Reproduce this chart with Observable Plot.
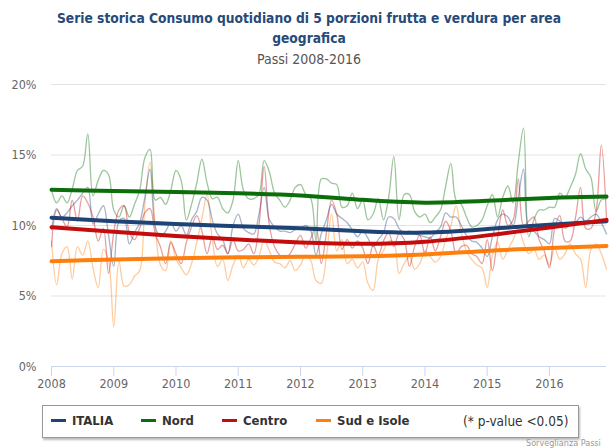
<!DOCTYPE html>
<html><head><meta charset="utf-8">
<script src="https://cdn.jsdelivr.net/npm/d3@7"></script>
<script src="https://cdn.jsdelivr.net/npm/@observablehq/plot@0.6"></script>
<style>
body{margin:0;background:#fff;font-family:"DejaVu Sans Condensed","Liberation Sans Narrow",Lato,sans-serif;}
#wrap{position:relative;width:609px;height:448px;overflow:hidden;background:#fff}
#chart{position:absolute;left:0;top:0}
#title{position:absolute;left:0;top:8px;width:618px;text-align:center;font-weight:bold;font-size:13.7px;line-height:20px;color:#274a78}
#subtitle{position:absolute;left:0;top:51px;width:618px;text-align:center;font-size:14px;color:#555}
#legend{position:absolute;left:42px;top:405px;width:535px;height:31px;border:1px solid #999;box-shadow:1px 2px 2px #bbb;background:#fff}
.li{position:absolute;top:7px;font-size:13px;font-weight:bold;color:#333;white-space:nowrap}
.sw{display:inline-block;width:15px;height:3px;margin-right:6px;vertical-align:middle;position:relative;top:-1px}
#pv{position:absolute;top:7px;left:420px;font-size:13.5px;color:#333;white-space:nowrap}
#credit{position:absolute;left:526px;top:438px;font-size:9px;line-height:10px;color:#999;white-space:nowrap}
</style></head>
<body><div id="wrap">
<div id="chart"></div>
<div id="title">Serie storica Consumo quotidiano di 5 porzioni frutta e verdura per area<br>geografica</div>
<div id="subtitle">Passi 2008-2016</div>
<div id="legend"></div>
<div id="credit">Sorveglianza Passi</div>
</div>
<script>
// ---- data ----
const seriesNames = ["ITALIA", "Nord", "Centro", "Sud e Isole"];
const seriesColors = ["#1d4377", "#0b6e0b", "#c40c0c", "#ff7f0e"];
const startYear = 2008; // monthly values Jan 2008 - Dec 2016
const yearTicks = [2008, 2009, 2010, 2011, 2012, 2013, 2014, 2015, 2016];
const yTicks = [0, 5, 10, 15, 20];

const italiaMonthly = [9.7,11.2,10.6,10.9,11.4,11.8,12.3,12.7,10.1,10.8,11.4,9.3,
  7.1,10.3,10.5,8.7,9.5,10.2,12.0,14.0,9.9,9.2,9.6,10.2,
  9.6,10.0,9.3,10.4,11.0,12.0,11.8,10.4,9.4,9.0,8.0,10.0,
  10.8,9.8,9.5,9.4,10.8,12.7,10.4,9.9,9.6,9.6,9.5,9.7,
  9.8,10.0,9.6,7.9,9.4,10.4,11.5,10.8,10.5,10.2,9.7,9.2,
  9.6,9.1,8.5,9.0,9.5,10.6,10.5,9.8,9.5,9.6,9.4,9.3,
  9.2,9.1,9.5,9.9,10.9,10.6,10.6,10.0,9.3,8.9,8.8,8.4,
  7.8,9.2,10.4,10.8,10.6,10.0,12.0,14.0,9.8,9.6,9.2,9.0,
  8.7,10.5,10.3,9.8,10.1,10.2,10.6,10.3,10.6,10.8,10.2,9.4];
const nordMonthly = [12.5,11.6,12.1,11.6,12.6,13.9,14.2,16.5,12.1,13.2,13.9,13.6,
  11.1,10.6,11.4,10.6,11.5,12.5,14.8,15.4,11.8,12.0,11.5,12.5,
  13.9,13.2,10.4,11.5,13.0,14.7,13.0,11.9,12.0,11.2,10.9,11.8,
  14.6,12.5,11.9,11.9,12.2,14.6,13.8,12.3,11.8,11.3,11.8,12.7,
  12.9,12.2,11.9,8.9,13.3,13.3,13.0,12.9,11.3,11.4,12.3,11.2,
  11.8,10.4,10.8,11.9,10.4,12.0,14.9,10.4,12.2,12.2,11.0,10.6,
  10.8,10.2,10.6,11.1,12.8,14.4,11.8,11.5,10.6,9.9,10.0,10.4,
  11.4,12.2,10.6,12.0,12.8,11.6,14.5,16.9,9.2,10.4,11.1,11.1,
  11.3,11.3,12.3,12.0,12.7,13.6,15.1,14.0,13.4,11.0,11.8,11.9];
const centroMonthly = [8.5,11.1,10.5,9.9,11.8,10.3,12.1,11.6,10.6,8.9,9.8,6.6,
  9.5,11.1,11.4,9.5,9.0,9.8,10.9,11.2,9.4,8.5,7.3,8.8,
  8.0,7.3,8.8,9.9,10.7,9.6,8.0,9.2,8.3,8.6,8.0,9.0,
  8.2,8.3,8.7,8.0,10.0,14.2,10.0,8.5,7.9,7.7,8.0,8.7,
  9.3,8.4,9.1,9.9,7.3,9.5,11.8,10.8,8.3,9.0,8.4,8.9,
  8.4,7.3,8.6,7.9,8.9,9.5,8.5,9.4,9.0,7.1,8.5,9.3,
  8.0,9.2,8.2,9.2,10.3,9.6,8.0,8.5,8.6,8.0,7.8,7.3,
  9.0,6.8,9.1,11.1,10.0,10.4,13.3,10.0,10.3,10.6,9.0,8.2,
  7.0,9.8,10.7,8.9,8.9,10.5,12.7,9.8,9.8,11.0,15.7,10.5];
const sudMonthly = [8.9,5.8,8.0,8.5,6.2,8.5,7.9,8.9,7.0,5.6,8.3,7.5,
  2.8,7.5,5.7,5.8,6.4,6.8,11.5,14.5,10.0,7.2,6.8,8.9,
  7.6,7.0,6.5,7.3,8.8,10.5,12.2,9.0,7.1,7.6,6.1,7.2,
  7.9,7.0,7.6,7.2,7.8,9.0,8.2,7.4,7.3,7.0,7.5,6.8,
  7.2,7.9,7.5,6.1,5.9,7.8,10.8,8.2,9.0,7.3,7.6,7.0,
  7.4,5.9,5.4,7.6,8.2,8.9,8.8,6.6,7.3,7.8,6.9,7.3,
  8.2,7.8,7.4,7.8,9.0,10.0,11.4,9.5,8.2,7.6,7.2,7.0,
  5.6,7.9,8.8,7.6,8.3,9.0,9.8,8.8,8.0,8.3,7.6,7.9,
  7.2,8.4,7.6,8.0,8.7,8.0,7.6,5.6,8.3,8.7,8.0,6.9];

// trend lines, value at each year start and at Dec 2016
const trendYears = [2008, 2009, 2010, 2011, 2012, 2013, 2014, 2015, 2016, 2016.917];
const italiaTrend = [10.55, 10.3, 10.1, 9.95, 9.8, 9.6, 9.5, 9.75, 10.05, 10.3];
const nordTrend   = [12.53, 12.45, 12.37, 12.28, 12.13, 11.82, 11.62, 11.75, 11.95, 12.05];
const centroTrend = [9.88, 9.55, 9.25, 9.0, 8.8, 8.7, 8.85, 9.3, 9.85, 10.4];
const sudTrend    = [7.47, 7.58, 7.68, 7.74, 7.78, 7.82, 7.95, 8.2, 8.4, 8.55];

// ---- build tables ----
const monthlyArrays = [italiaMonthly, nordMonthly, centroMonthly, sudMonthly];
const trendArrays = [italiaTrend, nordTrend, centroTrend, sudTrend];
const monthly = [], trend = [];
seriesNames.forEach((s, i) => {
  monthlyArrays[i].forEach((v, m) => monthly.push({serie: s, t: startYear + m / 12, v}));
  trendArrays[i].forEach((v, k) => trend.push({serie: s, t: trendYears[k], v}));
});
const drawOrder = ["Sud e Isole", "Nord", "ITALIA", "Centro"];
const font = '"DejaVu Sans Condensed","Liberation Sans Narrow",Lato,sans-serif';

const chart = Plot.plot({
  width: 609, height: 448,
  marginTop: 84, marginBottom: 82, marginLeft: 51, marginRight: 3,
  style: {fontFamily: font, background: "transparent", overflow: "visible"},
  x: {domain: [2008, 2016 + 11 / 12]},
  y: {domain: [0, 20]},
  color: {domain: seriesNames, range: seriesColors},
  marks: [
    Plot.gridY(yTicks, {stroke: "#e3e3e3", strokeOpacity: 1, strokeWidth: 1}),
    Plot.axisY(yTicks, {tickSize: 0, tickPadding: 15, tickFormat: d => d + "%", fontSize: 12.5, fill: "#666", label: null}),
    Plot.ruleY([0], {stroke: "#ccd6eb", strokeWidth: 1}),
    Plot.axisX(yearTicks, {tickSize: 10, tickPadding: 3, tickFormat: d => String(d), fontSize: 12.5, fill: "#666", stroke: "#ccd6eb", label: null}),
    ...drawOrder.map(s => Plot.line(monthly.filter(d => d.serie === s), {
      x: "t", y: "v", stroke: "serie", strokeWidth: 1.3, strokeOpacity: 0.4, curve: "catmull-rom"})),
    ...drawOrder.map(s => Plot.line(trend.filter(d => d.serie === s), {
      x: "t", y: "v", stroke: "serie", strokeWidth: 4, curve: "natural"}))
  ]
});
document.getElementById("chart").appendChild(chart);

// legend
const legendPos = [8, 98, 179, 273];
const leg = document.getElementById("legend");
seriesNames.forEach((s, i) => {
  const d = document.createElement("div");
  d.className = "li";
  d.style.left = legendPos[i] + "px";
  d.innerHTML = `<span class="sw" style="background:${seriesColors[i]}"></span>${s}`;
  leg.appendChild(d);
});
const pv = document.createElement("div");
pv.id = "pv"; pv.textContent = "(* p-value <0.05)";
leg.appendChild(pv);
</script>
</body></html>
